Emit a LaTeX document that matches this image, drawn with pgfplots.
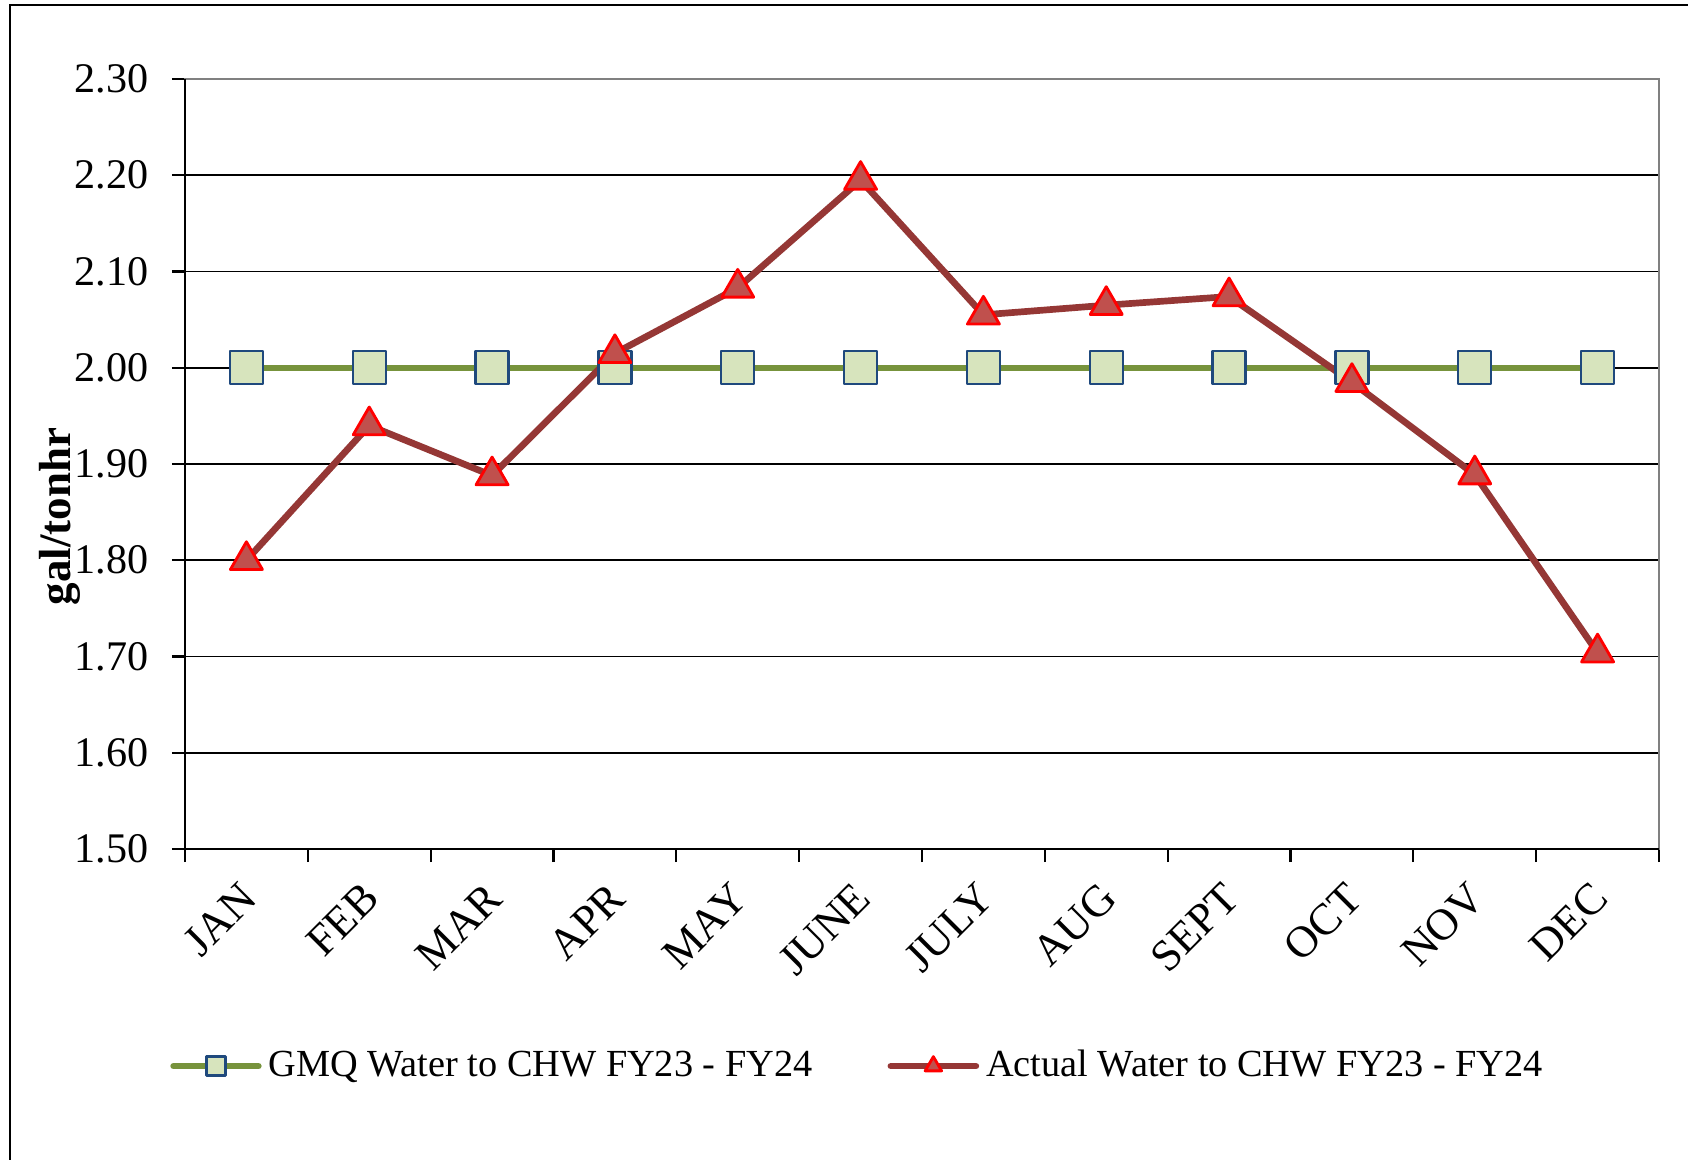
\documentclass[border=0pt]{standalone}
\usepackage{pgfplots}
\pgfplotsset{compat=1.18}
\usepackage{fontspec}
\setmainfont{Liberation Serif}
\definecolor{gmqline}{HTML}{77933C}
\definecolor{gmqfill}{HTML}{D7E4BD}
\definecolor{gmqedge}{HTML}{1F497D}
\definecolor{actline}{HTML}{953735}
\definecolor{actfill}{HTML}{C0504D}
\definecolor{actedge}{HTML}{FF0000}

\begin{document}
\begin{tikzpicture}
\path[use as bounding box] (-18.5mm,-31.1mm) rectangle (150.3mm,84.9mm);
\draw[line width=0.6pt] (-17.5mm,-31.1mm) -- (-17.5mm,84.4mm) -- (150.3mm,84.4mm);
\begin{axis}[
    at={(0,0)}, anchor=south west,
    scale only axis,
    width=147.4mm,
    height=77mm,
    xmin=0.5, xmax=12.5,
    ymin=1.5, ymax=2.3,
    ytick={1.5,1.6,1.7,1.8,1.9,2.0,2.1,2.2,2.3},
    xtick={1,...,12},
    xticklabels={JAN,FEB,MAR,APR,MAY,JUNE,JULY,AUG,SEPT,OCT,NOV,DEC},
    minor xtick={0.5,1.5,...,12.5},
    tick pos=left,
    tick align=outside,
    major tick length=1.3mm,
    minor tick length=1.3mm,
    major x tick style={draw=none},
    every tick/.style={black, line width=0.6pt},
    ymajorgrids,
    grid style={black, line width=0.5pt},
    axis line style={draw=gray, line width=0.7pt},
    /pgf/number format/assume math mode=true,
    yticklabel style={font=\fontsize{12}{14}\selectfont, xshift=-1.1mm,
        /pgf/number format/fixed, /pgf/number format/fixed zerofill,
        /pgf/number format/precision=2},
    xticklabel style={font=\fontsize{12.6}{15}\selectfont, xshift=1.1mm, yshift=-2.0mm, rotate=45, anchor=east},
    ylabel={gal/tonhr},
    ylabel style={font=\fontsize{12.8}{15}\selectfont\bfseries, at={(axis description cs:-0.0848,0.432)}, anchor=center},
    clip=false,
    legend columns=2,
    legend style={at={(axis description cs:0.458,-0.282)}, anchor=center, draw=none,
        font=\fontsize{10.9}{13}\selectfont, column sep=0pt,
        /tikz/every even column/.append style={column sep=6.8mm}},
    legend cell align=left,
    legend image code/.code={\draw[#1, mark repeat=2, mark phase=2, mark size=0.95mm]
        plot coordinates {(0mm,0mm) (4.25mm,0mm) (8.5mm,0mm)};},
]
\addplot[color=gmqline, line width=1.8pt, line cap=round, line join=round,
    mark=square*, mark size=1.65mm,
    mark options={fill=gmqfill, draw=gmqedge, line width=0.7pt, solid}]
    coordinates {(1,2.00) (2,2.00) (3,2.00) (4,2.00) (5,2.00) (6,2.00)
                 (7,2.00) (8,2.00) (9,2.00) (10,2.00) (11,2.00) (12,2.00)};
\addlegendentry{GMQ Water to CHW FY23 - FY24}
\addplot[color=actline, line width=1.9pt, line cap=round, line join=round,
    mark=triangle*, mark size=1.85mm,
    mark options={fill=actfill, draw=actedge, line width=0.8pt, solid}]
    coordinates {(1,1.800) (2,1.940) (3,1.888) (4,2.015) (5,2.083) (6,2.195)
                 (7,2.055) (8,2.065) (9,2.074) (10,1.985) (11,1.889) (12,1.704)};
\addlegendentry{Actual Water to CHW FY23 - FY24}
\draw[black, line width=0.7pt] (rel axis cs:0,1) -- (rel axis cs:0,0) -- (rel axis cs:1,0);
\end{axis}
\end{tikzpicture}
\end{document}
